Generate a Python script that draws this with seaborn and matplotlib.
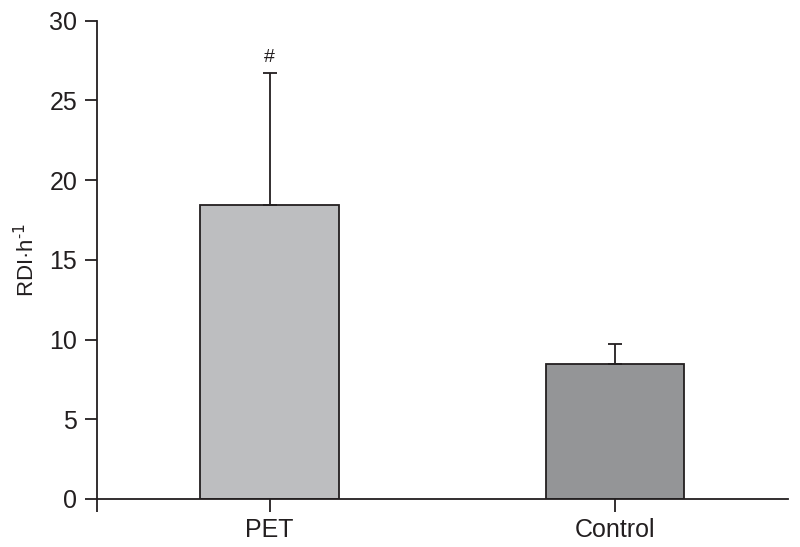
import pandas as pd
import matplotlib
matplotlib.use("Agg")
import matplotlib.pyplot as plt
import seaborn as sns

# values
groups = ["PET", "Control"]
means = [18.45, 8.47]
sd_upper = [8.3, 1.25]
bar_colors = ["#bdbec0", "#939598"]

sns.set_style("ticks")
plt.rcParams["font.family"] = ["Liberation Sans", "DejaVu Sans"]
ink = "#231f20"

df = pd.DataFrame({"group": groups, "rdi": means})

fig = plt.figure(figsize=(8, 5.47), dpi=100)
ax = fig.add_axes([0.121, 0.088, 0.864, 0.874])

sns.barplot(data=df, x="group", y="rdi", hue="group", palette=bar_colors,
            width=0.4, edgecolor=ink, linewidth=1.3, legend=False, ax=ax,
            errorbar=None)

# upper error bars only
ax.errorbar(range(len(groups)), means, yerr=[[0] * len(groups), sd_upper],
            fmt="none", ecolor=ink, elinewidth=1.3, capsize=4.8, capthick=1.3,
            zorder=3)

# significance mark
ax.text(0, means[0] + sd_upper[0] + 0.4, "#", ha="center", va="bottom",
        fontsize=14, color=ink)

ax.set_xlim(-0.5, 1.5)
ax.set_ylim(0, 30)
ax.set_yticks(range(0, 31, 5))
ax.set_xticks([-0.5, 0, 1])
ax.set_xticklabels(["", "PET", "Control"])
ax.set_xlabel("")
# small hyphen superscript as in the original label
ax.set_ylabel("RDI·h$^{\\mathregular{\u2010}1}$", fontsize=16, color=ink,
              labelpad=7)

ax.tick_params(axis="both", direction="out", length=9, width=1.3,
               colors=ink, labelsize=18, pad=5)
for side in ["left", "bottom"]:
    ax.spines[side].set_linewidth(1.3)
    ax.spines[side].set_color(ink)
sns.despine(ax=ax)

fig.savefig("out.png", dpi=100)
